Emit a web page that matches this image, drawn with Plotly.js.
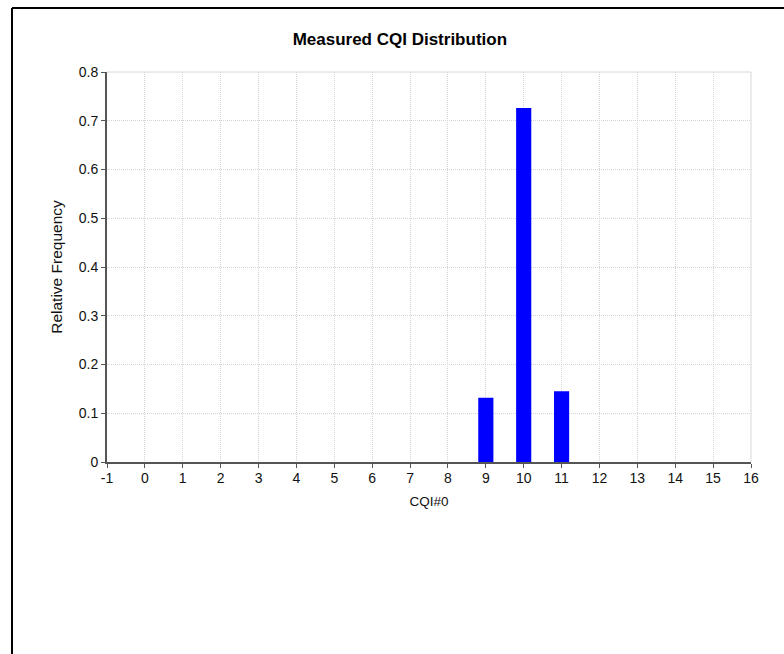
<!DOCTYPE html>
<html>
<head>
<meta charset="utf-8">
<script src="https://cdn.plot.ly/plotly-3.0.1.min.js"></script>
<style>
  html, body { margin: 0; padding: 0; background: #fff; }
  #chart { width: 784px; height: 654px; }
</style>
</head>
<body>
<div id="chart"></div>
<script>
// CQI index values and their measured relative frequency
const cqiValues = [0, 1, 2, 3, 4, 5, 6, 7, 8, 9, 10, 11, 12, 13, 14, 15];
const relFrequency = [0, 0, 0, 0, 0, 0, 0, 0, 0, 0.132, 0.726, 0.145, 0, 0, 0, 0];
const xTickValues = [-1, 0, 1, 2, 3, 4, 5, 6, 7, 8, 9, 10, 11, 12, 13, 14, 15, 16];
const yTickValues = [0, 0.1, 0.2, 0.3, 0.4, 0.5, 0.6, 0.7, 0.8];
const yTickLabels = ['0', '0.1', '0.2', '0.3', '0.4', '0.5', '0.6', '0.7', '0.8'];

const FONT = '"Liberation Sans", Arial, sans-serif';

const trace = {
  type: 'bar',
  x: cqiValues,
  y: relFrequency,
  width: 0.4,
  marker: { color: '#0000FF', line: { width: 0 } },
  hoverinfo: 'x+y'
};

const layout = {
  width: 784,
  height: 654,
  paper_bgcolor: '#ffffff',
  plot_bgcolor: '#ffffff',
  margin: { l: 107, r: 33, t: 72, b: 192 },
  showlegend: false,
  font: { family: FONT, size: 14, color: '#000' },
  title: {
    text: '<b>Measured CQI Distribution</b>',
    font: { family: FONT, size: 17, color: '#000' },
    xref: 'container', x: 0.51, xanchor: 'center',
    yref: 'container', y: 1 - 39 / 654, yanchor: 'middle'
  },
  xaxis: {
    range: [-1, 16],
    tickmode: 'array',
    tickvals: xTickValues,
    ticktext: xTickValues.map(String),
    ticks: 'outside', ticklen: 4, tickwidth: 1, tickcolor: '#555',
    ticklabelstandoff: -2,
    showline: true, linecolor: '#555', linewidth: 2,
    showgrid: true, gridcolor: '#d4d4d4', griddash: '1px,1px', gridwidth: 1,
    zeroline: false,
    tickfont: { family: FONT, size: 14, color: '#111' },
    title: { text: 'CQI#0', font: { family: FONT, size: 13.5, color: '#111' }, standoff: 12 },
    fixedrange: true
  },
  yaxis: {
    range: [0, 0.8],
    tickmode: 'array',
    tickvals: yTickValues,
    ticktext: yTickLabels,
    ticks: 'outside', ticklen: 4, tickwidth: 1, tickcolor: '#555',
    showline: true, linecolor: '#555', linewidth: 2,
    showgrid: true, gridcolor: '#d4d4d4', griddash: '1px,1px', gridwidth: 1,
    zeroline: false,
    tickfont: { family: FONT, size: 14, color: '#111' },
    title: { text: 'Relative Frequency', font: { family: FONT, size: 15.5, color: '#111' }, standoff: 12 },
    fixedrange: true
  },
  shapes: [
    // light frame on top/right of plot area
    { type: 'line', xref: 'paper', yref: 'paper', x0: 0, x1: 1, y0: 1, y1: 1,
      line: { color: '#d8d8d8', width: 1 }, layer: 'below' },
    { type: 'line', xref: 'paper', yref: 'paper', x0: 1, x1: 1, y0: 0, y1: 1,
      line: { color: '#d8d8d8', width: 1 }, layer: 'below' },
    // outer window border (left and top)
    { type: 'line', xref: 'paper', yref: 'paper',
      x0: (12 - 107) / 644, x1: (12 - 107) / 644, y0: (462 - 8) / 390, y1: (462 - 660) / 390,
      line: { color: '#000', width: 2 } },
    { type: 'line', xref: 'paper', yref: 'paper',
      x0: (12 - 107) / 644, x1: (790 - 107) / 644, y0: (462 - 8) / 390, y1: (462 - 8) / 390,
      line: { color: '#000', width: 2 } }
  ]
};

Plotly.newPlot('chart', [trace], layout, { displayModeBar: false, staticPlot: true });
</script>
</body>
</html>
